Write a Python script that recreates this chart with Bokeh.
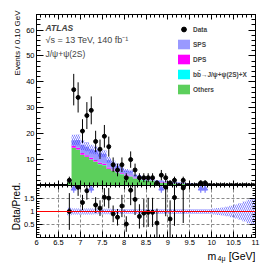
import numpy as np
from bokeh.plotting import figure
from bokeh.layouts import column, row
from bokeh.models import (FixedTicker, LinearAxis, Range1d, Label, Legend,
                          LegendItem, Span, ColumnDataSource)
from bokeh.embed import file_html
from bokeh.resources import INLINE
from bokeh.core.properties import value

# ---------------- data ----------------
bin_width = 0.1
mass = [6.75, 6.85, 6.95, 7.05, 7.15, 7.25, 7.35, 7.45, 7.55, 7.65,
        7.75, 7.85, 7.95, 8.05, 8.15, 8.25, 8.35, 8.45, 8.55, 8.65,
        8.75, 8.85, 8.95, 9.05, 9.15, 9.25, 9.35, 9.45, 9.55, 9.65,
        9.75, 9.85, 9.95, 10.05, 10.15, 10.25, 10.35, 10.45, 10.55, 10.65,
        10.75, 10.85, 10.95]
data_counts = [2, 37, 34, 21, 27, 29, 17, 14, 19, 15,
               8, 6, 8, 3, 10, 6, 3, 3, 3, 3,
               1, 4, 3, 1, 2, 0, 2, 0, 0, 0,
               1, 1, 0, 0, 0, 0, 0, 0, 0, 0,
               0, 0, 0]
others = [1.5, 14.5, 13.8, 11.8, 11.0, 10.0, 9.2, 8.2, 7.8, 6.4,
          5.7, 5.0, 4.3, 3.8, 3.5, 2.7, 2.4, 2.0, 1.9, 1.9,
          1.1, 1.1, 0.95, 0.85, 0.8, 0.7, 0.6, 0.55, 0.5, 0.45,
          0.28, 0.28, 0.25, 0.22, 0.2, 0.18, 0.16, 0.14, 0.13, 0.12,
          0.1, 0.09, 0.07]
bb_jpsi = [0.05, 0.1, 0.1, 0.1, 0.1, 0.1, 0.1, 0.1, 0.1, 0.1,
           0.1, 0.1, 0.1, 0.1, 0.1, 0.1, 0.08, 0.08, 0.08, 0.08,
           0.06, 0.06, 0.05, 0.05, 0.05, 0.04, 0.04, 0.04, 0.03, 0.03,
           0.02, 0.02, 0.02, 0.02, 0.02, 0.01, 0.01, 0.01, 0.01, 0.01,
           0.01, 0.01, 0.01]
dps = [0.1, 0.7, 0.7, 0.65, 0.6, 0.6, 0.55, 0.5, 0.5, 0.45,
       0.4, 0.4, 0.35, 0.3, 0.3, 0.25, 0.25, 0.2, 0.2, 0.2,
       0.15, 0.15, 0.12, 0.12, 0.1, 0.1, 0.1, 0.08, 0.08, 0.07,
       0.05, 0.05, 0.05, 0.04, 0.04, 0.04, 0.03, 0.03, 0.03, 0.03,
       0.02, 0.02, 0.02]
sps = [0.35, 2.2, 3.0, 3.05, 3.3, 3.3, 3.75, 3.6, 3.9, 2.95,
       2.6, 2.2, 1.85, 1.6, 1.6, 1.05, 0.97, 0.92, 0.92, 0.92,
       0.49, 0.49, 0.43, 0.38, 0.35, 0.31, 0.31, 0.23, 0.19, 0.15,
       0.1, 0.1, 0.08, 0.07, 0.06, 0.05, 0.05, 0.04, 0.03, 0.03,
       0.02, 0.02, 0.02]
rel_unc = [0.14, 0.12, 0.12, 0.12, 0.12, 0.12, 0.11, 0.11, 0.11, 0.11,
           0.1, 0.1, 0.1, 0.1, 0.1, 0.1, 0.1, 0.1, 0.1, 0.1,
           0.1, 0.1, 0.1, 0.1, 0.1, 0.1, 0.1, 0.1, 0.1, 0.1,
           0.1, 0.1, 0.1, 0.12, 0.13, 0.15, 0.18, 0.22, 0.27, 0.32,
           0.38, 0.45, 0.5]

x_ticks = [6, 6.5, 7, 7.5, 8, 8.5, 9, 9.5, 10, 10.5, 11]
x_tick_labels = ["6", "6.5", "7", "7.5", "8", "8.5", "9", "9.5", "10", "10.5", "11"]
y_ticks = [10, 20, 30, 40, 50, 60]
r_ticks = [0.5, 1.0, 1.5]
r_tick_labels = ["0.5", "1", "1.5"]

legend_labels = ["Data", "SPS", "DPS",
                 "b" + "b\u0304" + "\u2192J/\u03c8+\u03c8(2S)+X", "Others"]

# ---------------- derived ----------------
x = np.array(mass)
n = np.array(data_counts, dtype=float)
o = np.array(others)
b = np.array(bb_jpsi)
d = np.array(dps)
s = np.array(sps)
u = np.array(rel_unc)
c1 = o
c2 = o + b
c3 = c2 + d
tot = c3 + s
left = x - bin_width / 2
right = x + bin_width / 2
edges = np.append(left, right[-1])

FONT = "Liberation Sans"
C_SPS = "#9999ff"
C_DPS = "#ff00ff"
C_BB = "#00ffff"
C_OTH = "#5ccf5c"
C_HATCH = "#3a3aff"

XR = (6, 11)
minor_x = [round(6 + 0.1 * i, 2) for i in range(51)]
FW = 219          # frame width
SW = 21           # width of the strip holding the rotated y titles
BL, BR = 14, 20   # left / right borders of the panels
TOTAL_H = 264


def label_axis(ax, tin, tmin, size="7.5px"):
    ax.major_tick_in = tin
    ax.major_tick_out = 0
    ax.minor_tick_in = tmin
    ax.minor_tick_out = 0
    ax.axis_line_color = "black"
    ax.major_tick_line_color = "black"
    ax.minor_tick_line_color = "black"
    ax.major_label_text_font = FONT
    ax.major_label_text_color = "black"
    ax.major_label_text_font_size = size
    ax.major_label_standoff = 2


def tick_only(fig, side, major, minor, tin, tmin):
    """Unlabelled mirrored ticks: two label-free axes stacked at the same edge."""
    for ticks, length in ((major, tin), (minor, tmin)):
        ax = LinearAxis(ticker=FixedTicker(ticks=[], minor_ticks=list(ticks)))
        ax.major_tick_in = 0
        ax.major_tick_out = 0
        ax.minor_tick_in = length
        ax.minor_tick_out = 0
        ax.major_label_standoff = 0
        ax.axis_line_color = "black"
        ax.minor_tick_line_color = "black"
        fig.add_layout(ax, side)


def step(a):
    return np.append(a, a[-1])

# ---------------- top panel ----------------
p = figure(frame_width=FW, frame_height=171, x_range=Range1d(*XR),
           y_range=Range1d(0, 66), output_backend="svg", toolbar_location=None,
           min_border_left=BL, min_border_right=BR, min_border_top=14,
           min_border_bottom=0, x_axis_location=None, y_axis_location=None)
p.grid.visible = False
p.outline_line_color = "black"

yt = FixedTicker(ticks=y_ticks, minor_ticks=list(range(0, 67, 2)))
ax_l = LinearAxis(ticker=yt)
label_axis(ax_l, 7, 4)
p.add_layout(ax_l, "left")
tick_only(p, "right", y_ticks, range(0, 67, 2), 7, 4)
tick_only(p, "above", x_ticks, minor_x, 5, 3)
tick_only(p, "below", x_ticks, minor_x, 5, 3)

zero = np.zeros_like(x)
layers = [(zero, c1, C_OTH), (c1, c2, C_BB), (c2, c3, C_DPS), (c3, tot, C_SPS)]
for lo, hi, col in layers:
    p.varea_step(x=edges, y1=step(lo), y2=step(hi), step_mode="after",
                 fill_color=col)

p.quad(left=left, right=right, bottom=tot * (1 - u), top=tot * (1 + u),
       fill_alpha=0, line_color=None, hatch_pattern="\\", hatch_color=C_HATCH,
       hatch_scale=4, hatch_weight=0.8, hatch_alpha=0.8)

err = np.sqrt(n)
p.segment(x0=x, y0=n - err, x1=x, y1=n + err, line_color="black", line_width=1)
p.scatter(x=x, y=n, size=4, marker="circle", fill_color="black", line_color="black")

# legend renderers: real data, hidden renderers (only their legend glyph shows)
src = ColumnDataSource(dict(x=x, n=n, left=left, right=right, lo=c1, hi=tot))
r_data_m = p.scatter(x="x", y="n", source=src, marker="circle", size=4,
                     fill_color="black", line_color="black", visible=False)
r_data_e = p.scatter(x="x", y="n", source=src, marker="dash", size=8, angle=np.pi / 2,
                     line_color="black", line_width=1, visible=False)
leg_r = []
for col in (C_SPS, C_DPS, C_BB, C_OTH):
    leg_r.append(p.quad(left="left", right="right", bottom="lo", top="hi", source=src,
                        fill_color=col, line_color=None, visible=False))
leg = Legend(items=[LegendItem(label=legend_labels[0], renderers=[r_data_e, r_data_m]),
                    LegendItem(label=legend_labels[1], renderers=[leg_r[0]]),
                    LegendItem(label=legend_labels[2], renderers=[leg_r[1]]),
                    LegendItem(label=legend_labels[3], renderers=[leg_r[2]]),
                    LegendItem(label=legend_labels[4], renderers=[leg_r[3]])],
             location=(140, 90), orientation="vertical", glyph_width=15,
             glyph_height=12, label_height=12, spacing=3, padding=0, margin=0,
             border_line_color=None, background_fill_alpha=0,
             label_text_font=FONT, label_text_font_size="6.5px",
             label_text_font_style="bold", label_standoff=2, click_policy="none")
p.add_layout(leg)

p.add_layout(Label(x=9, y=157.5, x_units="screen", y_units="screen", text="ATLAS",
                   text_font=FONT, text_font_size="8.5px", text_font_style="bold italic",
                   text_baseline="alphabetic"))
p.add_layout(Label(x=9, y=146, x_units="screen", y_units="screen",
                   text="\u221as = 13 TeV, 140 fb\u207b\u00b9",
                   text_font=FONT, text_font_size="9px", text_baseline="alphabetic"))
p.add_layout(Label(x=9, y=131.5, x_units="screen", y_units="screen",
                   text="J/\u03c8+\u03c8(2S)",
                   text_font=FONT, text_font_size="8.5px", text_baseline="alphabetic"))

# ---------------- ratio panel ----------------
r = figure(frame_width=FW, frame_height=52, x_range=Range1d(*XR),
           y_range=Range1d(0, 2), output_backend="svg", toolbar_location=None,
           min_border_left=BL, min_border_right=BR, min_border_top=0,
           min_border_bottom=10, x_axis_location=None, y_axis_location=None)
r.outline_line_color = "black"
xt = FixedTicker(ticks=x_ticks, minor_ticks=minor_x)
rt = FixedTicker(ticks=r_ticks, minor_ticks=[round(0.1 * i, 2) for i in range(21)])
rb = LinearAxis(ticker=xt)
label_axis(rb, 6, 3)
rb.major_label_overrides = {float(t): l for t, l in zip(x_ticks, x_tick_labels)}
rl = LinearAxis(ticker=rt)
label_axis(rl, 6, 3)
rl.major_label_overrides = {float(t): l for t, l in zip(r_ticks, r_tick_labels)}
r.add_layout(rb, "below")
r.add_layout(rl, "left")
tick_only(r, "above", x_ticks, minor_x, 4, 2)
tick_only(r, "right", r_ticks, [round(0.1 * i, 2) for i in range(21)], 6, 3)
r.xgrid.ticker = xt
r.ygrid.ticker = rt
r.grid.grid_line_color = "#8a8a8a"
r.grid.grid_line_dash = "3 2"
r.grid.grid_line_width = 1

r.quad(left=left, right=right, bottom=1 - u, top=1 + u, fill_alpha=0, line_color=None,
       hatch_pattern="\\", hatch_color=C_HATCH, hatch_scale=4, hatch_weight=0.8,
       hatch_alpha=0.8)
r.add_layout(Span(location=1.0, dimension="width", line_color="#ff0000", line_width=1))

ratio = n / tot
rerr = np.sqrt(n) / tot
ymax = 2.0
ok = (n > 0) & (ratio <= ymax)
up = (n > 0) & (ratio > ymax)
r.segment(x0=x[ok], y0=(ratio - rerr)[ok], x1=x[ok], y1=(ratio + rerr)[ok],
          line_color="black", line_width=1)
r.scatter(x=x[ok], y=ratio[ok], size=4, fill_color="black", line_color="black")
arrow_tip = ymax * 0.94
arrow_tail = ymax * 0.86
r.segment(x0=x[up], y0=np.full(up.sum(), arrow_tail), x1=x[up],
          y1=np.full(up.sum(), arrow_tip), line_color="#7b7bff", line_width=1.2)
r.scatter(x=x[up], y=np.full(up.sum(), arrow_tip), marker="triangle", size=5,
          fill_color="#7b7bff", line_color="#7b7bff")

# ---------------- x-axis title strip ----------------
t = figure(frame_width=FW, frame_height=16, x_range=Range1d(*XR), y_range=Range1d(0, 16),
           output_backend="svg", toolbar_location=None, min_border_left=BL,
           min_border_right=BR, min_border_top=0, min_border_bottom=0,
           x_axis_location=None, y_axis_location=None)
t.grid.visible = False
t.outline_line_color = None
t.text(x=[XR[1]], y=[8], text=["[GeV]"], text_align="right", text_baseline="alphabetic",
       text_font=value(FONT), text_font_size="10.5px", text_color="black")
t.text(x=[XR[1]], y=[8], text=["m"], text_align="left", text_baseline="alphabetic",
       x_offset=-48, text_font=value(FONT), text_font_size="10.5px", text_color="black")
t.text(x=[XR[1]], y=[8], text=["4\u03bc"], text_align="left", text_baseline="alphabetic",
       x_offset=-38, y_offset=2.5, text_font=value(FONT), text_font_size="7px",
       text_color="black")

# ---------------- y-title strip (left) ----------------
yl = figure(frame_width=SW, frame_height=TOTAL_H, x_range=Range1d(0, SW),
            y_range=Range1d(0, TOTAL_H), output_backend="svg", toolbar_location=None,
            min_border=0, x_axis_location=None, y_axis_location=None)
yl.grid.visible = False
yl.outline_line_color = None
yl.text(x=[SW - 4], y=[TOTAL_H - 10], text=["Events / 0.10 GeV"], angle=np.pi / 2,
        text_align="right", text_baseline="alphabetic", text_font=value(FONT),
        text_font_size="8px", text_color="black")
yl.text(x=[SW - 5], y=[TOTAL_H - 182], text=["Data/Pred."], angle=np.pi / 2,
        text_align="right", text_baseline="alphabetic", text_font=value(FONT),
        text_font_size="10px", text_color="black")

layout = row(yl, column(p, r, t, spacing=0), spacing=0)
open("out.html", "w").write(file_html(layout, INLINE))
